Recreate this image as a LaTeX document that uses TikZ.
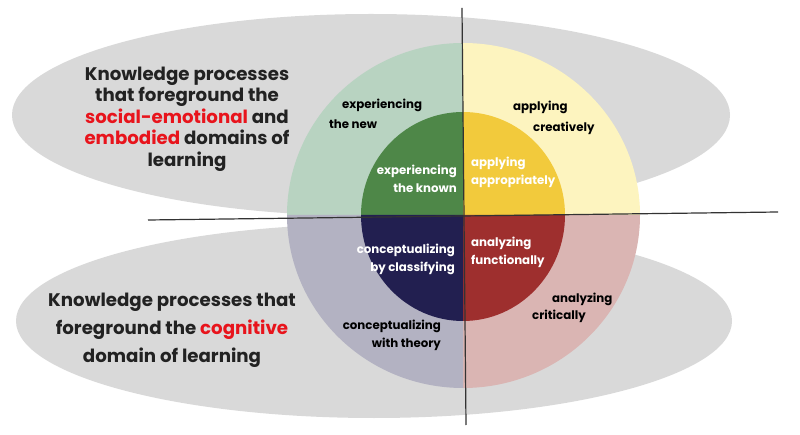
\documentclass[tikz,border=0pt]{standalone}
\usepackage{fontspec}
\setmainfont{Poppins}
\definecolor{ellgray}{HTML}{D9D9D9}
\definecolor{lgreen}{HTML}{B8D3C1}
\definecolor{dgreen}{HTML}{4E8748}
\definecolor{lyellow}{HTML}{FDF4BF}
\definecolor{dyellow}{HTML}{F2CA3C}
\definecolor{lgrayv}{HTML}{B3B2C2}
\definecolor{navy}{HTML}{221F50}
\definecolor{lpink}{HTML}{DAB5B3}
\definecolor{dred}{HTML}{9E2F2E}
\definecolor{hired}{HTML}{E8141C}
\definecolor{txt}{HTML}{222222}
\begin{document}
\begin{tikzpicture}[x=1pt,y=-1pt,
  bigtxt/.style={text=txt,font=\bfseries,align=center,inner sep=0pt},
  lbl/.style={text=black,font=\bfseries\fontsize{11.8}{19}\selectfont,inner sep=0pt},
  wlbl/.style={text=white,font=\bfseries\fontsize{11.8}{18}\selectfont,inner sep=0pt},
  axis/.style={draw=black!80,line width=1.2pt}]
\useasboundingbox (0,0) rectangle (800,435);
% background ellipses
\fill[ellgray] (371,115) ellipse[x radius=359, y radius=101];
\fill[ellgray] (374,321) ellipse[x radius=358, y radius=97];
% outer quadrants
\coordinate (O) at (463,215);
\fill[lgreen] (O) -- (287,215) arc[start angle=180,end angle=270,x radius=176,y radius=172] -- cycle;
\fill[lyellow] (O) -- (463,43) arc[start angle=270,end angle=360,x radius=177,y radius=172] -- cycle;
\fill[lpink] (O) -- (640,215) arc[start angle=0,end angle=90,x radius=177,y radius=173] -- cycle;
\fill[lgrayv] (O) -- (463,388) arc[start angle=90,end angle=180,x radius=176,y radius=173] -- cycle;
% inner quadrants
\fill[dgreen] (O) -- (361,215) arc[start angle=180,end angle=270,x radius=102,y radius=103] -- cycle;
\fill[dyellow] (O) -- (463,112) arc[start angle=270,end angle=360,x radius=102,y radius=103] -- cycle;
\fill[dred] (O) -- (565,215) arc[start angle=0,end angle=90,x radius=102,y radius=106] -- cycle;
\fill[navy] (O) -- (463,321) arc[start angle=90,end angle=180,x radius=102,y radius=106] -- cycle;
% axes
\coordinate (vt) at (462,8);
\coordinate (vb) at (466,425);
\coordinate (hl) at (148,220);
\coordinate (hr) at (778,212);
\draw[axis] (vt) -- (vb);
\draw[axis] (hl) -- (hr);
% big texts
\node[bigtxt,font=\bfseries\fontsize{18.2}{21.6}\selectfont] (t1) at (187,119)
  {Knowledge processes\\that foreground the\\{\color{hired}social-emotional} and\\{\color{hired}embodied} domains of\\learning};
\node[bigtxt,font=\bfseries\fontsize{18.2}{27.8}\selectfont] (t2) at (172,330)
  {Knowledge processes that\\foreground the {\color{hired}cognitive}\\domain of learning};
% labels
\node[lbl,anchor=west,align=left,font=\bfseries\fontsize{11.8}{20}\selectfont] (en) at (329,114) {\hspace*{13pt}experiencing\\the new};
\node[lbl,anchor=west,align=left,font=\bfseries\fontsize{11.8}{21}\selectfont] (ac) at (513,117.5) {applying\\\hspace*{20pt}creatively};
\node[wlbl,anchor=east,align=right] (ek) at (457,179) {experiencing\\the known};
\node[wlbl,anchor=west,align=left] (aa) at (471,172) {applying\\appropriately};
\node[wlbl,anchor=east,align=right] (cc) at (455,259) {conceptualizing\\by classifying};
\node[wlbl,anchor=west,align=left] (af) at (471,252) {analyzing\\functionally};
\node[lbl,anchor=west,align=left,font=\bfseries\fontsize{11.8}{16.5}\selectfont] (acr) at (532,308) {\hspace*{20pt}analyzing\\critically};
\node[lbl,anchor=east,align=right,font=\bfseries\fontsize{11.8}{17.5}\selectfont] (ct) at (441,335.5) {conceptualizing\\with theory};
\end{tikzpicture}
\end{document}
